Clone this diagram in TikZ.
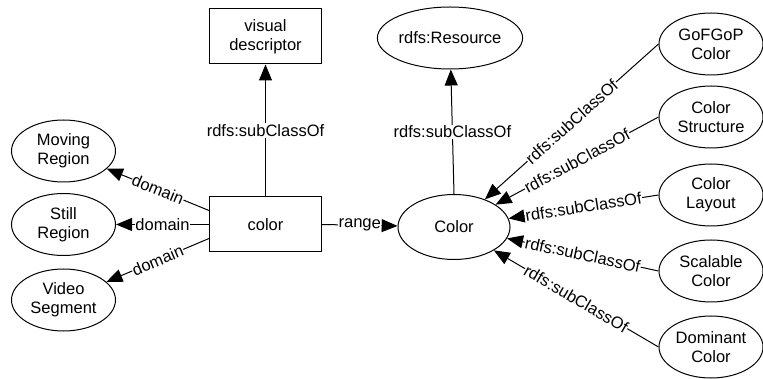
\documentclass[tikz,border=0pt]{standalone}
\usepackage{fontspec}
\setmainfont{Liberation Sans}
\usetikzlibrary{arrows.meta,shapes.geometric}
\begin{document}
\begin{tikzpicture}[x=1pt,y=-1pt,
  every node/.style={font=\fontsize{16.5}{19}\selectfont},
  rbox/.style={draw, line width=1pt, minimum width=112pt, minimum height=55pt, align=center, inner sep=0pt},
  ell/.style={draw, ellipse, line width=1pt, minimum width=104pt, minimum height=62pt, align=center, inner sep=0pt},
  edge/.style={line width=1pt, -{Triangle[length=16pt,width=13pt]}},
  lab/.style={fill=white, inner sep=0.5pt, sloped},
  vlab/.style={fill=white, inner sep=1pt}
]
\path[use as bounding box] (0,0) rectangle (763,379);
% nodes
\node[rbox] (vd) at (265.5,36.5) {visual\\descriptor};
\node[rbox] (color) at (265.5,224.5) {color};
\node[ell, minimum width=140pt, minimum height=62pt] (res) at (450,38) {rdfs:Resource};
\node[ell, minimum width=112pt, minimum height=65pt] (Color) at (454,227) {Color};
\node[ell] (mr) at (63.5,151) {Moving\\Region};
\node[ell] (sr) at (63.5,224.5) {Still\\Region};
\node[ell] (vs) at (63.5,300) {Video\\Segment};
\node[ell] (gof) at (711,44) {GoFGoP\\Color};
\node[ell] (cs) at (711,117) {Color\\Structure};
\node[ell] (cl) at (711,195) {Color\\Layout};
\node[ell] (sc) at (711,271) {Scalable\\Color};
\node[ell] (dc) at (711,347) {Dominant\\Color};
% edges
\draw[edge] (color) -- (vd) node[vlab,midway]{rdfs:subClassOf};
\draw[edge] (Color.north) -- (res) node[vlab,midway]{rdfs:subClassOf};
\draw[edge] ([yshift=14pt]color.west) -- (mr) node[lab,midway]{domain};
\draw[edge] (color.west) -- (sr) node[lab,midway]{domain};
\draw[edge] ([yshift=-14pt]color.west) -- (vs) node[lab,midway]{domain};
\draw[edge] (color.east) -- (Color) node[lab,midway]{range};
\draw[edge] (gof.west) -- (Color) node[lab,midway]{rdfs:subClassOf};
\draw[edge] (cs.west) -- (Color) node[lab,midway]{rdfs:subClassOf};
\draw[edge] (cl.west) -- (Color) node[lab,midway]{rdfs:subClassOf};
\draw[edge] (sc.west) -- (Color) node[lab,midway]{rdfs:subClassOf};
\draw[edge] (dc.west) -- (Color) node[lab,midway]{rdfs:subClassOf};
\end{tikzpicture}
\end{document}
